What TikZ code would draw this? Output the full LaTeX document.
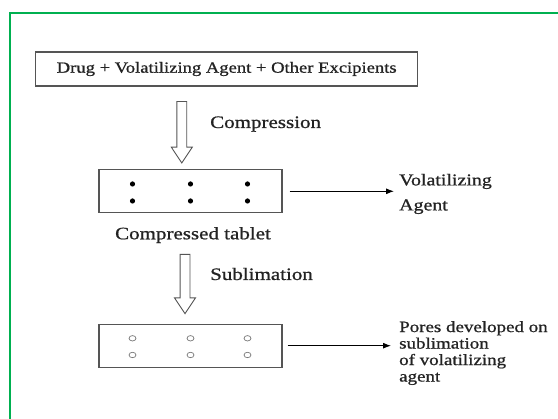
\documentclass[tikz,border=0pt]{standalone}
\usepackage{fontspec}
\setmainfont{Liberation Serif}[FakeStretch=1.2,FakeBold=0.8]
\usetikzlibrary{shapes.arrows,arrows.meta,positioning}

\definecolor{framegreen}{RGB}{0,176,80}
\definecolor{edgegray}{RGB}{85,85,85}
\definecolor{poregray}{RGB}{120,120,120}
\definecolor{inkgray}{RGB}{35,35,35}

\tikzset{
  mixbox/.style={draw=edgegray, line width=1.1pt, minimum width=382pt, minimum height=34pt, inner sep=0pt},
  tabletbox/.style={draw=edgegray, line width=1.1pt, minimum width=183pt, minimum height=43pt},
  hollow/.style={single arrow, draw=edgegray, line width=0.9pt, shape border rotate=270,
    inner sep=4.5pt, single arrow head extend=5.5pt, single arrow tip angle=67},
  steplabel/.style={font=\fontsize{17.5}{21}\selectfont, text=inkgray, inner sep=0pt},
  sidelabel/.style={align=left, text=inkgray, inner sep=0pt, anchor=north west},
  thinarrow/.style={-{Latex[length=8pt,width=6pt]}, line width=0.9pt}
}

\begin{document}
\begin{tikzpicture}[x=1pt,y=-1pt]
  \fill[white] (0,0) rectangle (558,419);
  \useasboundingbox (0,0) rectangle (558,419);
  \draw[framegreen, line width=2pt] (558,13) -- (9.5,13) -- (9.5,419);

  % mixture
  \node[mixbox, font=\fontsize{15.5}{19}\selectfont, text=inkgray] (mix) at (226.7,69) {Drug + Volatilizing Agent + Other Excipients};

  % compression step
  \node[hollow, minimum height=61.5pt] (press) at (181.8,128.5) {};
  \node[steplabel, anchor=base west] (presslbl) at (210,128) {Compression};

  % compressed tablet
  \node[tabletbox] (tab1) at (190.5,191.3) {};
  \foreach \dx in {-58,0,57}
    \foreach \dy in {-7.3,9.7}
      \fill ([shift={(\dx,\dy)}]tab1.center) circle (2.6pt);
  \node[steplabel, anchor=base] (tablbl) at (193,239.3) {Compressed tablet};
  \node[sidelabel, font=\fontsize{16.6}{25}\selectfont] (volat) at (399,173.7) {Volatilizing\\Agent};
  \draw[thinarrow] ([xshift=7pt]tab1.east) -- ([xshift=-5pt]volat.west |- tab1.east);

  % sublimation step
  \node[hollow, minimum height=59.3pt] (subl) at (185,280.3) {};
  \node[steplabel, anchor=base west] (subllbl) at (210,280) {Sublimation};

  % porous tablet
  \node[tabletbox] (tab2) at (190.5,345.7) {};
  \foreach \dx in {-58,0,57}
    \foreach \dy in {-7.4,9.3}
      \draw[poregray, line width=0.7pt] ([shift={(\dx,\dy)}]tab2.center) ellipse (3.5pt and 2.7pt);
  \node[sidelabel, font=\fontsize{15.8}{16.5}\selectfont] (pores) at (399,320.9) {Pores developed on\\sublimation\\of volatilizing\\agent};
  \draw[thinarrow] ([xshift=5pt]tab2.east) -- ([xshift=-8pt]pores.west |- tab2.east);
\end{tikzpicture}
\end{document}
